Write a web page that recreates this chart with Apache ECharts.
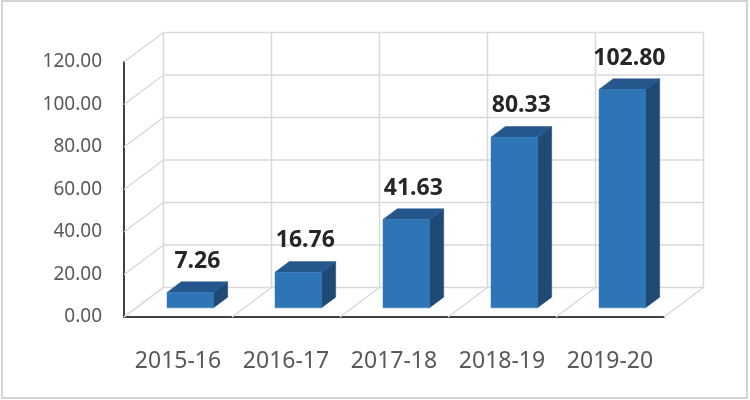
<!DOCTYPE html>
<html>
<head>
<meta charset="utf-8">
<script src="https://cdn.jsdelivr.net/npm/echarts@6/dist/echarts.min.js"></script>
<style>
html, body { margin: 0; padding: 0; background: #fff; }
#chart { width: 750px; height: 400px; }
</style>
</head>
<body>
<div id="chart"></div>
<script>
var categories = ['2015-16', '2016-17', '2017-18', '2018-19', '2019-20'];
var values = [7.26, 16.76, 41.63, 80.33, 102.80];
var yTicks = [0, 20, 40, 60, 80, 100, 120];

// fake 3d: depth vector of the floor, in px, and where the bar sits in it
var DEPTH = [39.5, -29.5];
var FRONT = 0.31, BACK = 0.67;
var BAR_W = 0.43;
var FONT = 'Noto Sans';
var WALL = '#d9d9d9';

function shift(p, f) {
  return [p[0] + DEPTH[0] * f, p[1] + DEPTH[1] * f];
}

function line(a, b) {
  return {
    type: 'line',
    shape: { x1: a[0], y1: a[1], x2: b[0], y2: b[1] },
    style: { stroke: WALL, lineWidth: 1.5 }
  };
}

// horizontal gridline on back wall + slanted one on the left wall
function renderWall(params, api) {
  var band = api.size([1, 0])[0];
  var p = api.coord([0, api.value(1)]);
  var x0 = p[0] - band / 2;
  var x1 = x0 + band * categories.length;
  var a = [x0, p[1]];
  return {
    type: 'group',
    children: [
      line(a, shift(a, 1)),
      line(shift(a, 1), shift([x1, p[1]], 1))
    ]
  };
}

// category boundaries: slant on floor + vertical on back wall
function renderBound(params, api) {
  var band = api.size([1, 0])[0];
  var p0 = api.coord([0, yTicks[0]]);
  var pt = api.coord([0, yTicks[yTicks.length - 1]]);
  var x = p0[0] - band / 2 + band * api.value(2);
  var f = [x, p0[1]];
  return {
    type: 'group',
    children: [
      line(f, shift(f, 1)),
      line(shift(f, 1), shift([x, pt[1]], 1))
    ]
  };
}

function poly(pts, color) {
  return {
    type: 'polygon',
    shape: { points: pts },
    style: { fill: color, stroke: color, lineWidth: 0.5 }
  };
}

function renderBar(params, api) {
  var i = api.value(0), v = api.value(1);
  var band = api.size([1, 0])[0];
  var base = api.coord([i, 0]);
  var top = api.coord([i, v]);
  var w = band * BAR_W;
  var xl = base[0] - w / 2, xr = base[0] + w / 2;
  var yb = base[1], yt = top[1];
  var flb = shift([xl, yb], FRONT), frb = shift([xr, yb], FRONT);
  var frt = shift([xr, yt], FRONT), flt = shift([xl, yt], FRONT);
  var brb = shift([xr, yb], BACK), brt = shift([xr, yt], BACK);
  var blt = shift([xl, yt], BACK);
  var lab = shift([base[0], yt], (FRONT + BACK) / 2);
  return {
    type: 'group',
    children: [
      poly([frb, brb, brt, frt], '#1F4A75'),
      poly([flt, frt, brt, blt], '#25578D'),
      poly([flb, frb, frt, flt], '#2E75B6'),
      {
        type: 'text',
        x: lab[0],
        y: lab[1] - 26,
        style: {
          text: v.toFixed(2),
          fontSize: 23,
          fontWeight: 'bold',
          fontFamily: FONT,
          fill: '#262626',
          align: 'center',
          verticalAlign: 'middle'
        }
      }
    ]
  };
}

var chart = echarts.init(document.getElementById('chart'));
chart.setOption({
  animation: false,
  graphic: [{
    type: 'rect',
    shape: { x: 2, y: 1, width: 745, height: 397 },
    style: { fill: 'none', stroke: '#d4d4d4', lineWidth: 2 },
    silent: true
  }],
  grid: { left: 124, top: 62, width: 540, height: 255 },
  xAxis: {
    type: 'category',
    data: categories,
    axisLine: { show: true, lineStyle: { color: '#404040', width: 2 } },
    axisTick: { show: false },
    axisLabel: { interval: 0, margin: 33, fontSize: 23, color: '#595959', fontFamily: FONT },
    splitLine: { show: false }
  },
  yAxis: {
    type: 'value',
    min: 0,
    max: 120,
    interval: 20,
    axisLine: { show: true, lineStyle: { color: '#404040', width: 2 } },
    axisTick: { show: false },
    axisLabel: {
      margin: 22,
      fontSize: 19,
      color: '#595959',
      fontFamily: FONT,
      padding: [4, 0, 0, 0],
      formatter: function (v) { return v.toFixed(2); }
    },
    splitLine: { show: false }
  },
  series: [{
    type: 'custom',
    clip: false,
    z: 1,
    silent: true,
    renderItem: renderWall,
    data: yTicks.map(function (t) { return [0, t]; })
  }, {
    type: 'custom',
    clip: false,
    z: 1,
    silent: true,
    renderItem: renderBound,
    data: categories.concat(['']).map(function (c, k) { return [0, 0, k]; })
  }, {
    type: 'custom',
    clip: false,
    z: 3,
    renderItem: renderBar,
    data: values.map(function (v, k) { return [k, v]; })
  }]
});
</script>
</body>
</html>
